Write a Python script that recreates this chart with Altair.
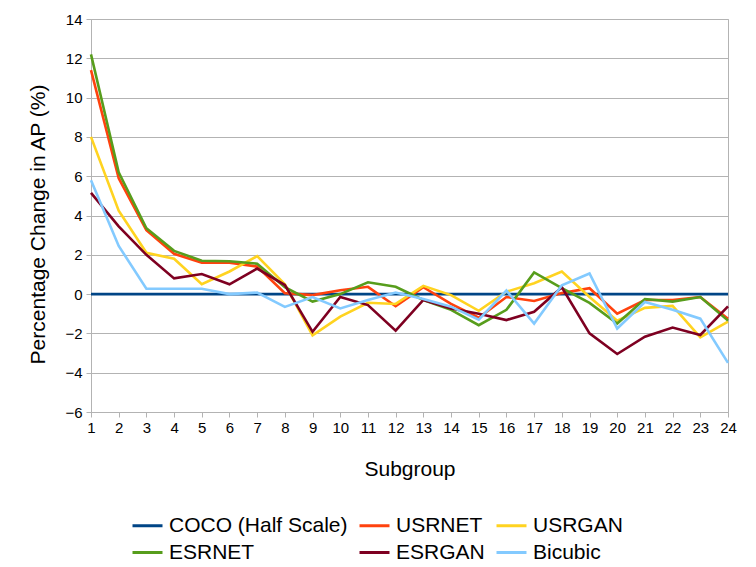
import altair as alt
import pandas as pd

subgroups = list(range(1, 25))
series_names = ["COCO (Half Scale)", "USRNET", "USRGAN", "ESRNET", "ESRGAN", "Bicubic"]
series_colors = ["#004586", "#ff420e", "#ffd320", "#579d1c", "#7e0021", "#83caff"]

coco = [0.0] * 24
usrnet = [11.4, 5.9, 3.25, 2.05, 1.6, 1.6, 1.4, 0.05, -0.05, 0.2, 0.37, -0.62,
          0.35, -0.5, -1.2, -0.15, -0.35, 0.05, 0.3, -1.0, -0.3, -0.3, -0.15, -1.25]
usrgan = [8.0, 4.25, 2.1, 1.8, 0.5, 1.15, 1.93, 0.5, -2.1, -1.15, -0.44, -0.5,
          0.42, -0.05, -0.85, 0.12, 0.55, 1.15, -0.15, -1.35, -0.7, -0.6, -2.2, -1.4]
esrnet = [12.2, 6.2, 3.35, 2.2, 1.7, 1.67, 1.55, 0.35, -0.38, 0.0, 0.6, 0.37,
          -0.3, -0.8, -1.58, -0.8, 1.1, 0.3, -0.45, -1.5, -0.25, -0.38, -0.15, -1.35]
esrgan = [5.15, 3.45, 2.0, 0.8, 1.02, 0.5, 1.3, 0.46, -1.92, -0.15, -0.56, -1.86,
          -0.3, -0.73, -1.0, -1.32, -0.9, 0.35, -2.0, -3.05, -2.17, -1.7, -2.08, -0.62]
bicubic = [5.8, 2.45, 0.28, 0.27, 0.27, 0.0, 0.08, -0.65, -0.15, -0.73, -0.3, 0.08,
           -0.25, -0.64, -1.3, 0.18, -1.5, 0.45, 1.05, -1.75, -0.4, -0.8, -1.25, -3.5]

y_ticks = list(range(-6, 15, 2))

all_values = [coco, usrnet, usrgan, esrnet, esrgan, bicubic]
rows = []
for name, vals in zip(series_names, all_values):
    for x, v in zip(subgroups, vals):
        rows.append({"subgroup": x, "value": v, "series": name})
df = pd.DataFrame(rows)

FONT = "Liberation Sans"

color = alt.Color(
    "series:N",
    scale=alt.Scale(domain=series_names, range=series_colors),
    legend=alt.Legend(
        title=None,
        orient="none",
        legendX=40,
        legendY=490,
        direction="horizontal",
        columns=3,
        symbolType="stroke",
        symbolSize=900,
        symbolStrokeWidth=3,
        labelFont=FONT,
        labelFontSize=21,
        labelColor="#000000",
        labelOffset=5,
        columnPadding=5,
        rowPadding=0,
        labelLimit=400,
    ),
)

x_enc = alt.X(
    "subgroup:Q",
    scale=alt.Scale(domain=[1, 24], nice=False, zero=False),
    axis=alt.Axis(
        values=subgroups,
        title="Subgroup",
        grid=False,
        tickSize=5,
        tickColor="#b3b3b3",
        domainColor="#b3b3b3",
        labelFont=FONT,
        labelFontSize=15,
        labelColor="#000000",
        labelPadding=3,
        labelFlush=False,
        titleFont=FONT,
        titleFontSize=21,
        titleFontWeight="normal",
        titleColor="#000000",
        titleX=318.5,
        titleY=63,
        titleBaseline="alphabetic",
        titleAnchor="middle",
    ),
)

y_enc = alt.Y(
    "value:Q",
    scale=alt.Scale(domain=[-6, 14], nice=False, zero=False),
    axis=alt.Axis(
        values=y_ticks,
        title="Percentage Change in AP (%)",
        grid=True,
        gridColor="#b3b3b3",
        gridWidth=1,
        tickSize=5,
        tickColor="#b3b3b3",
        domainColor="#b3b3b3",
        labelFont=FONT,
        labelFontSize=15,
        labelColor="#000000",
        labelPadding=4,
        labelFlush=False,
        titleFont=FONT,
        titleFontSize=21,
        titleFontWeight="normal",
        titleColor="#000000",
        titleAngle=270,
        titleX=-53,
        titleY=205,
        titleAlign="center",
        titleBaseline="middle",
    ),
)

layers = []
for name in series_names:
    layers.append(
        alt.Chart(df)
        .transform_filter(alt.datum.series == name)
        .mark_line(strokeWidth=2.6)
        .encode(x=x_enc, y=y_enc, color=color)
    )

chart = (
    alt.layer(*layers)
    .properties(
        width=637,
        height=393,
        autosize=alt.AutoSizeParams(type="none"),
        padding={"left": 83, "top": 11, "right": 18, "bottom": 155},
        background="#ffffff",
    )
    .configure_view(stroke="#b3b3b3", strokeWidth=1)
)

chart.save("out.html", embed_options={"renderer": "svg", "actions": False})
